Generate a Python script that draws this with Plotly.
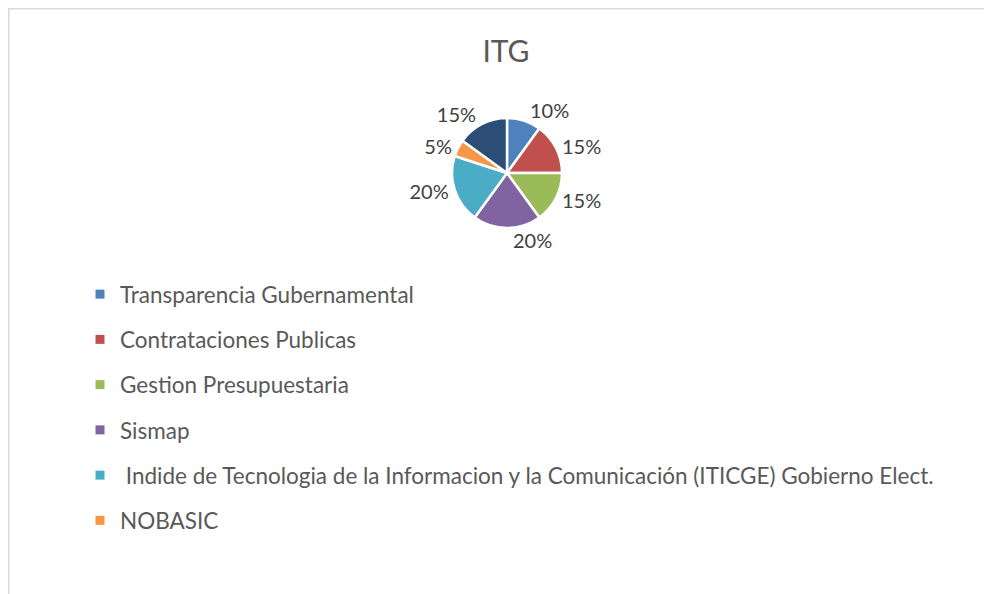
import plotly.graph_objects as go

W, H = 992, 594
OFF = 8  # the page body adds an 8px margin, so screen coordinates are shifted

categories = [
    "Transparencia Gubernamental",
    "Contrataciones Publicas",
    "Gestion Presupuestaria",
    "Sismap",
    "\u00a0Indide de Tecnologia de la Informacion y la Comunicación (ITICGE) Gobierno Elect.",
    "NOBASIC",
    "Otro",
]
values = [10, 15, 15, 20, 20, 5, 15]
colors = ["#4F81BD", "#C0504D", "#9BBB59", "#8064A2", "#4BACC6", "#F79646", "#2C4D75"]
legend_count = 6  # the legend in the original shows only the first six entries

FONT = "Lato"


def px(xs):
    return (xs - OFF) / W


def py(ys):
    return 1 - (ys - OFF) / H


fig = go.Figure()

cx, cy, r = 507, 173, 55
fig.add_trace(go.Pie(
    labels=categories,
    values=values,
    sort=False,
    direction="clockwise",
    rotation=0,
    marker=dict(colors=colors, line=dict(color="white", width=2.5)),
    textinfo="percent",
    texttemplate="%{percent:.0%}",
    textposition="outside",
    outsidetextfont=dict(family=FONT, size=20, color="#404040"),
    showlegend=False,
    hoverinfo="label+percent",
    domain=dict(x=[px(cx - r), px(cx + r)], y=[py(cy + r), py(cy - r)]),
))

for name, col in zip(categories[:legend_count], colors[:legend_count]):
    fig.add_trace(go.Scatter(
        x=[None], y=[None], mode="markers", name=name, legendgroup=name,
        marker=dict(symbol="square", size=9, color=col),
        hoverinfo="skip",
    ))

fig.update_layout(
    width=W, height=H,
    margin=dict(l=0, r=0, t=0, b=0),
    paper_bgcolor="white",
    plot_bgcolor="white",
    title=dict(text="ITG", x=px(506), xanchor="center", y=py(51), yanchor="middle",
               font=dict(family=FONT, size=30, color="#595959")),
    xaxis=dict(visible=False),
    yaxis=dict(visible=False),
    legend=dict(
        x=px(80), xanchor="left", y=py(273), yanchor="top",
        font=dict(family=FONT, size=22.5, color="#595959"),
        tracegroupgap=13,
        bgcolor="rgba(0,0,0,0)",
    ),
    shapes=[dict(type="rect", xref="paper", yref="paper",
                 x0=0.8 / W, x1=1.2, y0=-0.2, y1=1 - 0.8 / H,
                 line=dict(color="#D9D9D9", width=1.5), fillcolor="rgba(0,0,0,0)", layer="below")],
)

fig.write_html("out.html")
